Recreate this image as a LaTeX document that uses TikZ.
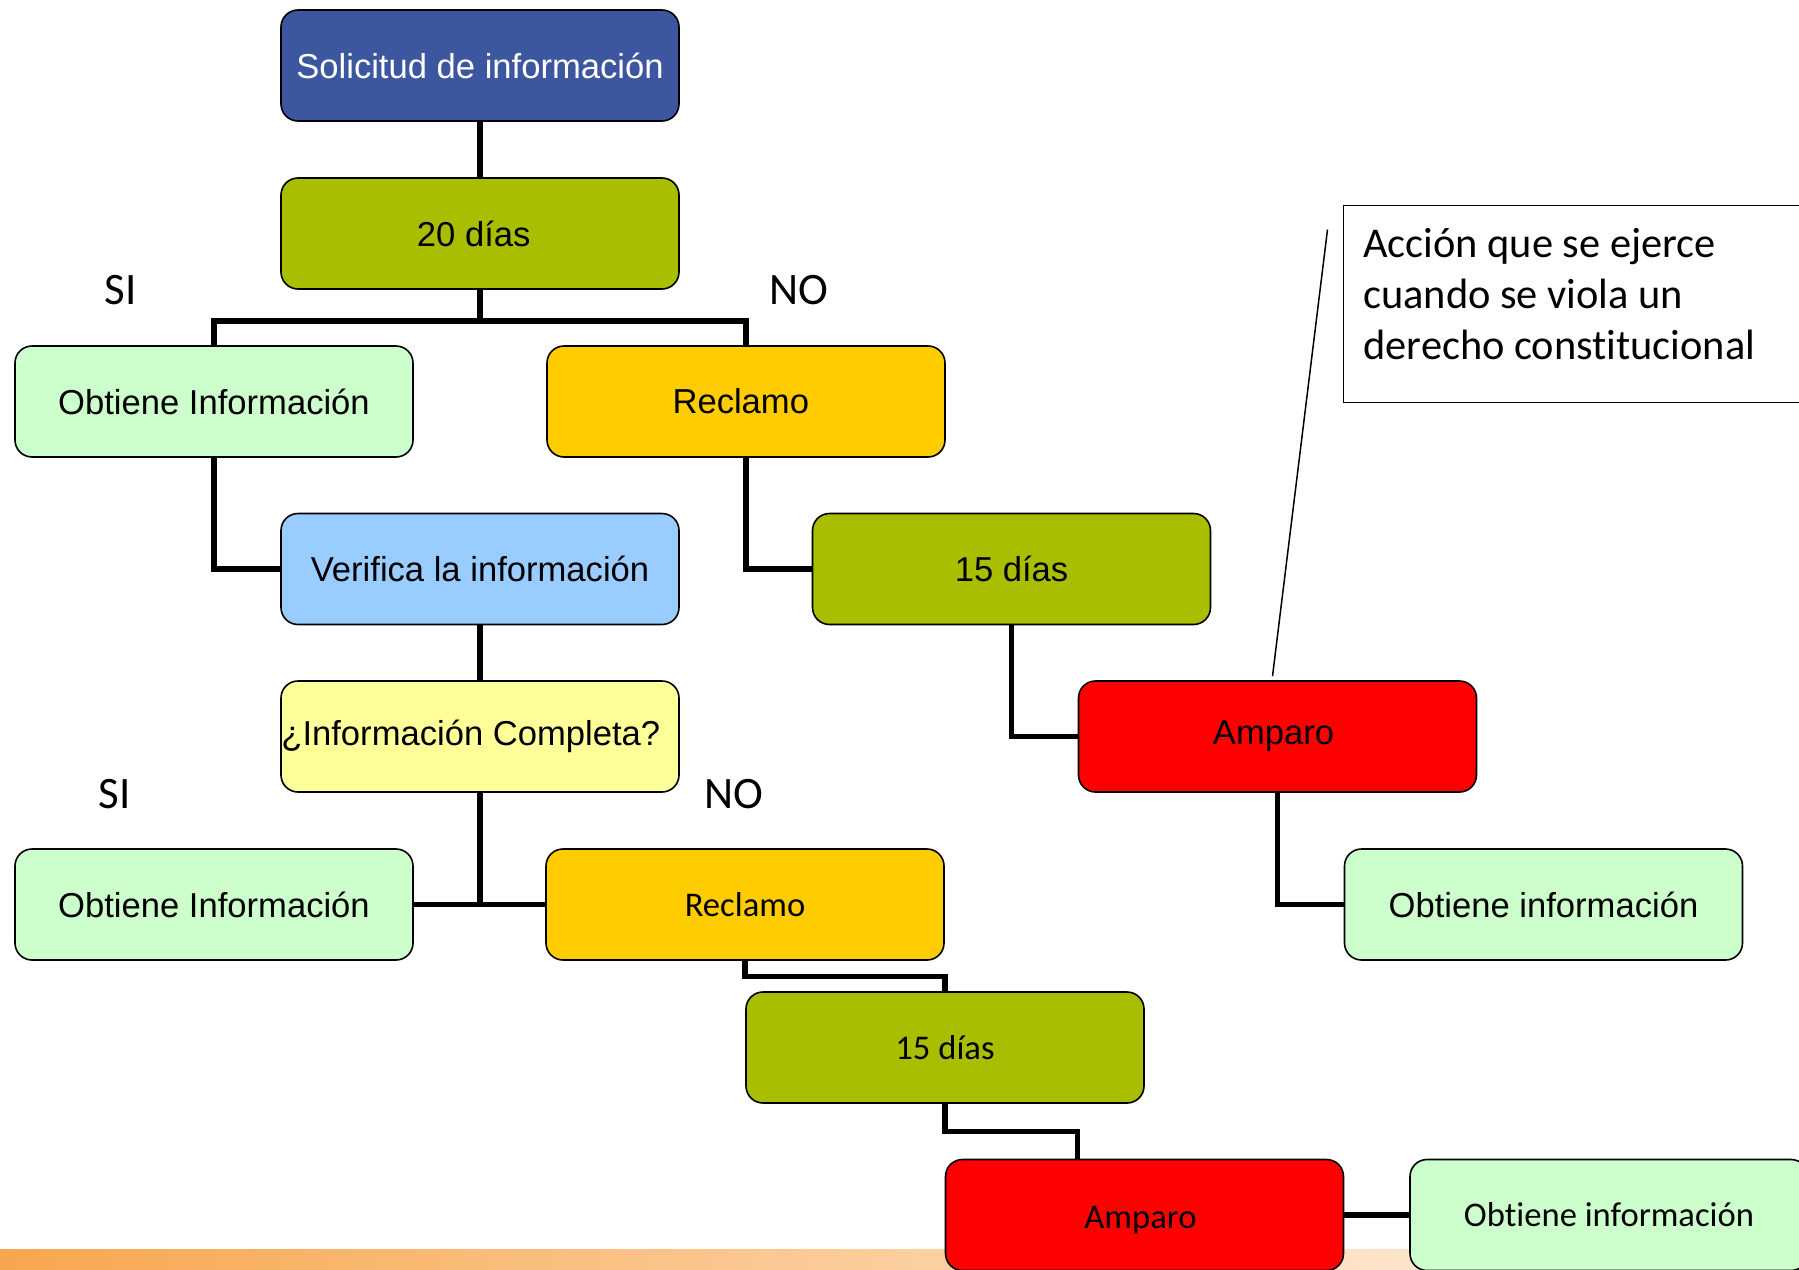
\documentclass[tikz,border=0pt]{standalone}
\usepackage{fontspec}
\setmainfont{Liberation Sans}
\newfontfamily\calib[Ligatures=NoCommon]{Carlito}
\usetikzlibrary{calc}
\definecolor{cblue}{RGB}{61,86,160}
\definecolor{colive}{RGB}{169,190,0}
\definecolor{cmint}{RGB}{204,255,204}
\definecolor{cgold}{RGB}{255,204,0}
\definecolor{csky}{RGB}{153,204,255}
\definecolor{cpale}{RGB}{255,255,153}
\definecolor{cred}{RGB}{255,0,0}
\definecolor{barl}{RGB}{247,166,78}
\definecolor{barr}{RGB}{255,246,236}
\begin{document}
\begin{tikzpicture}[x=0.5pt,y=-0.5pt,
  box/.style={draw=black,line width=0.8pt,rounded corners=8.5pt,minimum width=199pt,minimum height=55.5pt,inner sep=0pt,font=\fontsize{17.3}{20}\selectfont},
  cbox/.style={box,font=\calib\fontsize{17.3}{20}\selectfont},
  conn/.style={line width=2.6pt,line join=miter},
  lbl/.style={font=\calib\fontsize{22.5}{26}\selectfont,inner sep=0pt}]
\clip (0,0) rectangle (1799,1269);
\fill[white] (0,0) rectangle (1799,1269);
% bottom bar
\shade[left color=barl,right color=barr] (0,1249) rectangle (1799,1269);
% nodes
\node[box,fill=cblue,text=white] (sol) at (480,65.5) {Solicitud de información};
\node[box,fill=colive] (d20) at (480,233.5) {\hspace*{-6.3pt}20 días};
\node[box,fill=cmint] (obt1) at (214,401.5) {Obtiene Información};
\node[box,fill=cgold] (rec1) at (746,401.5) {\hspace*{-5.2pt}Reclamo};
\node[box,fill=csky] (verif) at (480,569) {Verifica la información};
\node[box,fill=colive] (d15a) at (1011.5,569) {15 días};
\node[box,fill=cpale] (compl) at (480,736.5) {\hspace*{-9.2pt}¿Información Completa?};
\node[box,fill=cred] (amp1) at (1277.5,736.5) {\hspace*{-4pt}Amparo};
\node[box,fill=cmint] (obt2) at (214,904.5) {Obtiene Información};
\node[cbox,fill=cgold] (rec2) at (745,904.5) {Reclamo};
\node[box,fill=cmint] (obtR) at (1543.5,904.5) {Obtiene información};
\node[cbox,fill=colive] (d15b) at (945,1047.5) {15 días};
\node[cbox,fill=cred,text depth=0pt] (amp2) at (1144.5,1215) {\raisebox{-2.3pt}{\hspace*{-4pt}Amparo}};
\node[cbox,fill=cmint] (obt3) at (1609,1215) {Obtiene información};
% labels
\node[lbl] (si1) at (120.5,290) {SI};
\node[lbl] (no1) at (798.5,290) {NO};
\node[lbl] (si2) at (115,794) {SI};
\node[lbl] (no2) at (734,794) {NO};
% connectors
\coordinate (j1) at (480,321);
\draw[conn] (sol.south) -- (d20.north);
\draw[conn] (d20.south) -- (j1);
\draw[conn] (obt1.north) |- (j1) -| (rec1.north);
\draw[conn] (obt1.south) |- (verif.west);
\draw[conn] (rec1.south) |- (d15a.west);
\draw[conn] (verif.south) -- (compl.north);
\draw[conn] (d15a.south) |- (amp1.west);
\draw[conn] (compl.south) -- (compl.south |- obt2.east);
\draw[conn] (obt2.east) -- (rec2.west);
\draw[conn] (amp1.south) |- (obtR.west);
\draw[conn] (rec2.south) -- ++(0,16) -| (d15b.north);
\draw[conn] (d15b.south) -- ++(0,28) -| ($(amp2.north west)+(133,0)$);
\draw[conn] (amp2.east) -- (obt3.west);
% callout
\draw[line width=0.6pt] (1343.5,205.5) rectangle (1810,402.5);
\node[anchor=west,align=left,inner sep=0pt,font=\calib\fontsize{21.2}{25.3}\selectfont] (note) at (1363,294) {Acción que se ejerce\\cuando se viola un\\derecho const\kern0pt itucional};
\coordinate (cl) at (1327.5,229.5);
\draw[line width=0.75pt] (cl) -- ($(amp1.north)+(-5,-4)$);
\end{tikzpicture}
\end{document}
